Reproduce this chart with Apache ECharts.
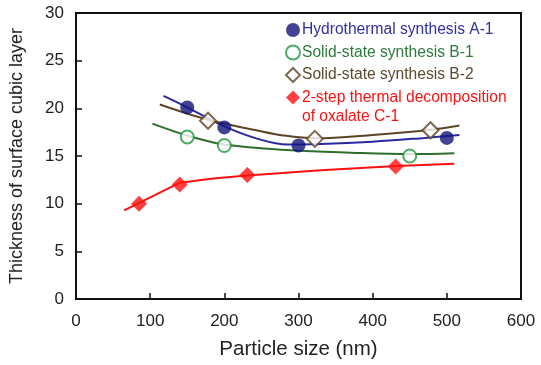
<!DOCTYPE html>
<html>
<head>
<meta charset="utf-8">
<script src="https://cdn.jsdelivr.net/npm/echarts@6/dist/echarts.min.js"></script>
<style>
  html, body { margin: 0; padding: 0; background: #fff; }
  #chart { width: 541px; height: 365px; }
</style>
</head>
<body>
<div id="chart"></div>
<script>
// 系列名称
var nameA1 = 'Hydrothermal synthesis A-1';
var nameB1 = 'Solid-state synthesis B-1';
var nameB2 = 'Solid-state synthesis B-2';
var nameC1 = '2-step thermal decomposition';

// 测量点 [粒径nm, 厚度]
var pointsA1 = [[150, 20.1], [200, 18.0], [300, 16.1], [500, 16.9]];
var pointsB1 = [[150, 17.0], [200, 16.1], [450, 15.0]];
var pointsB2 = [[178, 18.7], [322, 16.8], [478, 17.7]];
var pointsC1 = [[85, 10.0], [140, 12.0], [231, 13.0], [431, 13.9]];

// 拟合曲线
var curveA1 = [[118, 21.3], [150, 20.1], [200, 18.1], [245, 16.8], [285, 16.2], [330, 16.25], [400, 16.5], [470, 16.9], [517, 17.2]];
var curveB1 = [[103, 18.4], [150, 17.15], [200, 16.2], [290, 15.6], [370, 15.35], [450, 15.2], [510, 15.3]];
var curveB2 = [[113, 20.4], [178, 18.8], [243, 17.7], [280, 17.15], [323, 16.85], [400, 17.2], [478, 17.75], [517, 18.2]];
var curveC1 = [[65, 9.3], [140, 12.2], [185, 12.65], [231, 12.95], [330, 13.5], [432, 13.95], [510, 14.2]];

var xTicks = { min: 0, max: 600, interval: 100 };
var yTicks = { min: 0, max: 30, interval: 5 };

var colA1 = '#14147a', colA1Line = '#2a2aa0';
var colB1 = '#1f9a3f', colB1Line = '#2d6e2d';
var colB2 = '#5c4526';
var colC1 = '#ff1010';
var fontFam = 'Liberation Sans, Arial, sans-serif';

function fitLine(data, color, smooth) {
    return {
        type: 'line',
        data: data,
        smooth: smooth,
        showSymbol: false,
        silent: true,
        lineStyle: { color: color, width: 2 },
        z: 2
    };
}

function markers(name, data, symbol, size, color, filled) {
    return {
        name: name,
        type: 'scatter',
        data: data,
        symbol: symbol,
        symbolSize: size,
        itemStyle: filled ? { color: color } : { color: '#fff', borderColor: color, borderWidth: 2 },
        z: 5
    };
}

var axisCommon = {
    splitLine: { show: false },
    axisLine: { show: true, lineStyle: { color: '#111', width: 2 } },
    axisTick: { show: true, inside: true, length: 6, lineStyle: { color: '#111', width: 1.5 } },
    axisLabel: { color: '#222', fontSize: 17, fontFamily: fontFam },
    nameTextStyle: { color: '#222', fontSize: 18, fontFamily: fontFam }
};

var option = {
    animation: false,
    grid: {
        left: 76, right: 20, top: 13, bottom: 65,
        show: true, borderColor: '#111', borderWidth: 2
    },
    legend: {
        orient: 'vertical',
        left: 280,
        top: 17,
        itemGap: 6.5,
        itemWidth: 14,
        itemHeight: 14,
        textStyle: { fontSize: 15.6, fontFamily: fontFam, padding: [0, 0, 0, -3] },
        data: [
            { name: nameA1, icon: 'circle', textStyle: { color: '#3030a0' } },
            { name: nameB1, textStyle: { color: '#2e7a3a' } },
            { name: nameB2, textStyle: { color: '#5c4a30' } },
            { name: nameC1, icon: 'diamond', textStyle: { color: '#ff1010' } }
        ]
    },
    graphic: [{
        type: 'text',
        left: 302,
        top: 109,
        style: {
            text: 'of oxalate C-1',
            fill: '#ff1010',
            fontSize: 15.6,
            fontFamily: fontFam
        }
    }],
    xAxis: Object.assign({}, axisCommon, {
        type: 'value',
        min: xTicks.min, max: xTicks.max, interval: xTicks.interval,
        name: 'Particle size (nm)',
        nameLocation: 'middle',
        nameGap: 40,
        nameTextStyle: { color: '#222', fontSize: 20.5, fontFamily: fontFam },
        axisLabel: Object.assign({}, axisCommon.axisLabel, { margin: 14 })
    }),
    yAxis: Object.assign({}, axisCommon, {
        type: 'value',
        min: yTicks.min, max: yTicks.max, interval: yTicks.interval,
        name: 'Thickness of surface cubic layer',
        nameLocation: 'middle',
        nameGap: 50,
        axisLabel: Object.assign({}, axisCommon.axisLabel, { margin: 12 })
    }),
    series: [
        fitLine(curveA1, colA1Line, 0.35),
        fitLine(curveB1, colB1Line, 0.35),
        fitLine(curveB2, colB2, 0.35),
        fitLine(curveC1, colC1, false),
        markers(nameA1, pointsA1, 'circle', 14, colA1, true),
        markers(nameB1, pointsB1, 'circle', 13, colB1, false),
        markers(nameB2, pointsB2, 'diamond', 16, colB2, false),
        markers(nameC1, pointsC1, 'diamond', 16, colC1, true)
    ]
};

var chartDiv = document.getElementById('chart');
var chart = echarts.init(chartDiv);
chart.setOption(option);
</script>
</body>
</html>
